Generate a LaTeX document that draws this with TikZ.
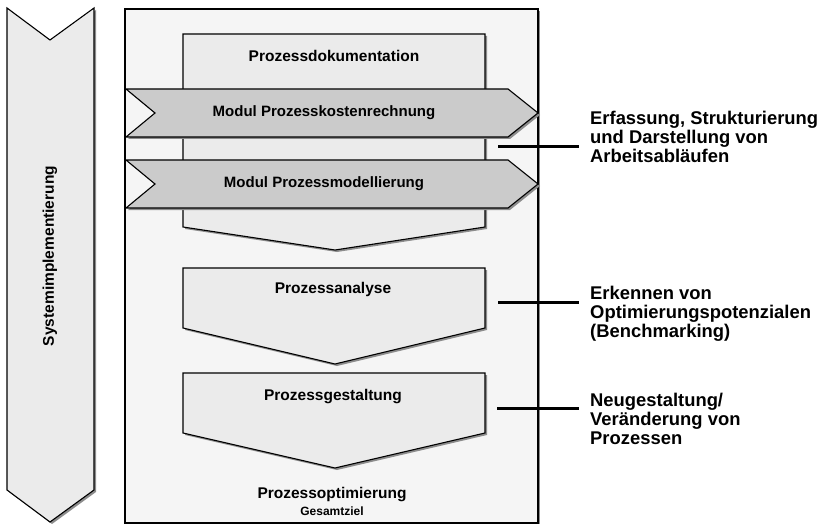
\documentclass[tikz,border=0pt]{standalone}
\usepackage{fontspec}
\setmainfont{Liberation Sans}
\usepackage{tikz}
\usetikzlibrary{shadows, calc, positioning}
\definecolor{FrameGray}{HTML}{F5F5F5}
\definecolor{PhaseGray}{HTML}{EBEBEB}
\definecolor{ModuleGray}{HTML}{CBCBCB}
\definecolor{ShadowGray}{HTML}{8C8C8C}
\tikzset{
  % Shape styles
  framebox/.style={draw=black, line width=1.1pt, fill=FrameGray, drop shadow={shadow xshift=2pt, shadow yshift=-2pt, fill=ShadowGray, opacity=1}},
  phasebox/.style={draw=black, line width=1.1pt, fill=PhaseGray, drop shadow={shadow xshift=2pt, shadow yshift=-2pt, fill=ShadowGray, opacity=1}},
  modulebox/.style={draw=black, line width=1.1pt, fill=ModuleGray, drop shadow={shadow xshift=2pt, shadow yshift=-2pt, fill=ShadowGray, opacity=1}},
  % Text styles
  phasetext/.style={font=\bfseries\fontsize{15.5}{18}\selectfont, inner sep=0pt, anchor=base},
  moduletext/.style={font=\bfseries\fontsize{15}{18}\selectfont, inner sep=0pt, anchor=base},
  goaltext/.style={font=\bfseries\fontsize{12}{14}\selectfont, inner sep=0pt, anchor=base},
  notetext/.style={font=\bfseries\fontsize{18.4}{18.8}\selectfont, align=left, inner sep=0pt, anchor=north west},
  % Line styles
  noteline/.style={line width=3pt, black, shorten >=11pt}
}

\begin{document}
\begin{tikzpicture}[x=1pt, y=-1pt]
  \useasboundingbox (0,0) rectangle (822,524);

  % Systemimplementierung
  \path[phasebox] (7,8) -- (50,40) -- (94,8) -- (94,490) -- (50,522) -- (7,490) -- cycle;
  \node[phasetext, rotate=90, anchor=center] (system) at (50,256) {Systemimplementierung};

  % Frame and phases
  \path[framebox] (125,9) rectangle (538,523);
  \path[phasebox] (183,34) -- (485,34) -- (485,227) -- (335,250) -- (183,227) -- cycle;
  \path[modulebox] (126,89) -- (508,89) -- (538,113) -- (508,137) -- (126,137) -- (155,113) -- cycle;
  \path[modulebox] (126,160) -- (508,160) -- (538,184) -- (508,208) -- (126,208) -- (155,184) -- cycle;
  \path[phasebox] (183,268) -- (485,268) -- (485,328) -- (335,364) -- (183,328) -- cycle;
  \path[phasebox] (183,373) -- (485,373) -- (485,433) -- (335,468) -- (183,433) -- cycle;

  % Labels
  \node[phasetext] (doku) at (334,62) {Prozessdokumentation};
  \node[moduletext] (kosten) at (324,117) {Modul Prozesskostenrechnung};
  \node[moduletext] (modell) at (324,187) {Modul Prozessmodellierung};
  \node[phasetext] (analyse) at (333,293) {Prozessanalyse};
  \node[phasetext] (gestaltung) at (333,400) {Prozessgestaltung};
  \node[phasetext] (optimierung) at (332,498) {Prozessoptimierung};
  \node[goaltext] (gesamtziel) at (332,515) {Gesamtziel};

  % Notes
  \node[notetext] (erfassung) at (590,111) {Erfassung, Strukturierung\\und Darstellung von\\Arbeitsabläufen};
  \node[notetext] (erkennen) at (590,286) {Erkennen von\\Optimierungspotenzialen\\(Benchmarking)};
  \node[notetext] (neu) at (590,393) {Neugestaltung/\\Veränderung von\\Prozessen};

  \coordinate (erfassungstart) at (498,147);
  \coordinate (erkennenstart) at (498,302);
  \coordinate (neustart) at (497,408);
  \draw[noteline] (erfassungstart) -- (erfassungstart -| erfassung.west);
  \draw[noteline] (erkennenstart) -- (erkennenstart -| erkennen.west);
  \draw[noteline] (neustart) -- (neustart -| neu.west);
\end{tikzpicture}
\end{document}
